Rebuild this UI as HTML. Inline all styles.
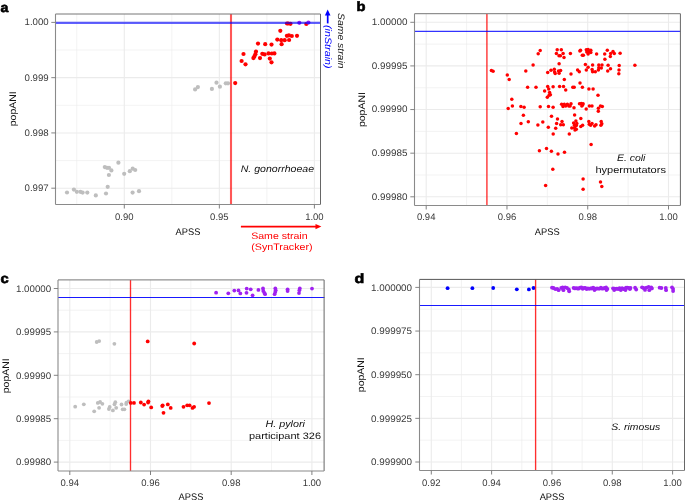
<!DOCTYPE html>
<html><head><meta charset="utf-8"><style>
html,body{margin:0;padding:0;background:#fff;}
body{width:685px;height:503px;overflow:hidden;font-family:"Liberation Sans", sans-serif;}
svg{display:block;will-change:transform;}
</style></head><body>
<svg width="685" height="503" viewBox="0 0 685 503" font-family='"Liberation Sans", sans-serif' text-rendering="geometricPrecision">
<rect x="0" y="0" width="685" height="503" fill="#fff"/>
<line x1="76.77" y1="14" x2="76.77" y2="204.5" stroke="#ebebeb" stroke-width="0.6"/>
<line x1="171.83" y1="14" x2="171.83" y2="204.5" stroke="#ebebeb" stroke-width="0.6"/>
<line x1="266.87" y1="14" x2="266.87" y2="204.5" stroke="#ebebeb" stroke-width="0.6"/>
<line x1="55.5" y1="160.57" x2="320.5" y2="160.57" stroke="#ebebeb" stroke-width="0.6"/>
<line x1="55.5" y1="105.3" x2="320.5" y2="105.3" stroke="#ebebeb" stroke-width="0.6"/>
<line x1="55.5" y1="50.03" x2="320.5" y2="50.03" stroke="#ebebeb" stroke-width="0.6"/>
<line x1="124.3" y1="14" x2="124.3" y2="204.5" stroke="#ebebeb" stroke-width="1.1"/>
<line x1="219.35" y1="14" x2="219.35" y2="204.5" stroke="#ebebeb" stroke-width="1.1"/>
<line x1="314.4" y1="14" x2="314.4" y2="204.5" stroke="#ebebeb" stroke-width="1.1"/>
<line x1="55.5" y1="22.4" x2="320.5" y2="22.4" stroke="#ebebeb" stroke-width="1.1"/>
<line x1="55.5" y1="77.67" x2="320.5" y2="77.67" stroke="#ebebeb" stroke-width="1.1"/>
<line x1="55.5" y1="132.93" x2="320.5" y2="132.93" stroke="#ebebeb" stroke-width="1.1"/>
<line x1="55.5" y1="188.2" x2="320.5" y2="188.2" stroke="#ebebeb" stroke-width="1.1"/>
<circle cx="67.0" cy="192.5" r="2.1" fill="#bebebe"/>
<circle cx="73.9" cy="189.6" r="2.1" fill="#bebebe"/>
<circle cx="76.8" cy="191.8" r="2.1" fill="#bebebe"/>
<circle cx="80.4" cy="191.8" r="2.1" fill="#bebebe"/>
<circle cx="82.6" cy="192.6" r="2.1" fill="#bebebe"/>
<circle cx="87.3" cy="192.6" r="2.1" fill="#bebebe"/>
<circle cx="95.8" cy="195.4" r="2.1" fill="#bebebe"/>
<circle cx="106.0" cy="193.5" r="2.1" fill="#bebebe"/>
<circle cx="107.7" cy="186.8" r="2.1" fill="#bebebe"/>
<circle cx="108.9" cy="175" r="2.1" fill="#bebebe"/>
<circle cx="104.8" cy="167.1" r="2.1" fill="#bebebe"/>
<circle cx="107" cy="167.8" r="2.1" fill="#bebebe"/>
<circle cx="109" cy="167.8" r="2.1" fill="#bebebe"/>
<circle cx="111.4" cy="170.4" r="2.1" fill="#bebebe"/>
<circle cx="118.4" cy="162.7" r="2.1" fill="#bebebe"/>
<circle cx="124.2" cy="173.8" r="2.1" fill="#bebebe"/>
<circle cx="129.8" cy="171.2" r="2.1" fill="#bebebe"/>
<circle cx="132.7" cy="168.7" r="2.1" fill="#bebebe"/>
<circle cx="135.2" cy="170" r="2.1" fill="#bebebe"/>
<circle cx="132.6" cy="192.6" r="2.1" fill="#bebebe"/>
<circle cx="139" cy="191.2" r="2.1" fill="#bebebe"/>
<circle cx="195.1" cy="89.4" r="2.1" fill="#bebebe"/>
<circle cx="197.9" cy="87.1" r="2.1" fill="#bebebe"/>
<circle cx="211.9" cy="88.9" r="2.1" fill="#bebebe"/>
<circle cx="216.5" cy="82.7" r="2.1" fill="#bebebe"/>
<circle cx="219.9" cy="86.7" r="2.1" fill="#bebebe"/>
<circle cx="225.8" cy="83.3" r="2.1" fill="#bebebe"/>
<circle cx="228" cy="83.3" r="2.1" fill="#bebebe"/>
<circle cx="235.2" cy="83.1" r="2.1" fill="#ff0000"/>
<circle cx="241.6" cy="61" r="2.1" fill="#ff0000"/>
<circle cx="245.5" cy="64.3" r="2.1" fill="#ff0000"/>
<circle cx="243.5" cy="54" r="2.1" fill="#ff0000"/>
<circle cx="253.4" cy="58.1" r="2.1" fill="#ff0000"/>
<circle cx="254.4" cy="56.4" r="2.1" fill="#ff0000"/>
<circle cx="255.4" cy="54.2" r="2.1" fill="#ff0000"/>
<circle cx="256" cy="51.5" r="2.1" fill="#ff0000"/>
<circle cx="258" cy="43.6" r="2.1" fill="#ff0000"/>
<circle cx="260" cy="58.1" r="2.1" fill="#ff0000"/>
<circle cx="262.3" cy="53.8" r="2.1" fill="#ff0000"/>
<circle cx="264.6" cy="54.4" r="2.1" fill="#ff0000"/>
<circle cx="265.2" cy="44.2" r="2.1" fill="#ff0000"/>
<circle cx="268.5" cy="53.4" r="2.1" fill="#ff0000"/>
<circle cx="269.8" cy="58.6" r="2.1" fill="#ff0000"/>
<circle cx="271.5" cy="62.3" r="2.1" fill="#ff0000"/>
<circle cx="271.5" cy="44.6" r="2.1" fill="#ff0000"/>
<circle cx="271.8" cy="53.5" r="2.1" fill="#ff0000"/>
<circle cx="274.4" cy="53.4" r="2.1" fill="#ff0000"/>
<circle cx="277.3" cy="39.6" r="2.1" fill="#ff0000"/>
<circle cx="280.3" cy="30.8" r="2.1" fill="#ff0000"/>
<circle cx="281.2" cy="40.2" r="2.1" fill="#ff0000"/>
<circle cx="281.6" cy="44.2" r="2.1" fill="#ff0000"/>
<circle cx="284.7" cy="40.2" r="2.1" fill="#ff0000"/>
<circle cx="286.9" cy="35.8" r="2.1" fill="#ff0000"/>
<circle cx="288.9" cy="35.4" r="2.1" fill="#ff0000"/>
<circle cx="289.1" cy="40" r="2.1" fill="#ff0000"/>
<circle cx="291.8" cy="36" r="2.1" fill="#ff0000"/>
<circle cx="297" cy="35.8" r="2.1" fill="#ff0000"/>
<circle cx="287" cy="23.5" r="2.1" fill="#ff0000"/>
<circle cx="288.2" cy="23.5" r="2.1" fill="#ff0000"/>
<circle cx="290.5" cy="23.8" r="2.1" fill="#ff0000"/>
<circle cx="306.3" cy="24" r="2.1" fill="#ff0000"/>
<circle cx="299.3" cy="22.8" r="2.1" fill="#a020f0"/>
<circle cx="308.4" cy="22.6" r="2.1" fill="#a020f0"/>
<line x1="231" y1="14" x2="231" y2="204.5" stroke="#ff0000" stroke-opacity="0.66" stroke-width="2.1"/>
<line x1="55.5" y1="22.95" x2="320.5" y2="22.95" stroke="#0000ff" stroke-opacity="0.62" stroke-width="2.2"/>
<line x1="55.5" y1="14" x2="320.5" y2="14" stroke="#777" stroke-width="1"/>
<line x1="320.5" y1="14" x2="320.5" y2="204.5" stroke="#666" stroke-width="1"/>
<line x1="55.5" y1="204.5" x2="320.5" y2="204.5" stroke="#8a8a8a" stroke-width="1.1"/>
<line x1="55.5" y1="14" x2="55.5" y2="204.5" stroke="#8a8a8a" stroke-width="1.1"/>
<line x1="124.3" y1="204.5" x2="124.3" y2="208.5" stroke="#7a7a7a" stroke-width="0.95"/>
<text x="124.3" y="219.8" font-size="9.5" fill="#3a3a3a" text-anchor="middle">0.90</text>
<line x1="219.35" y1="204.5" x2="219.35" y2="208.5" stroke="#7a7a7a" stroke-width="0.95"/>
<text x="219.35" y="219.8" font-size="9.5" fill="#3a3a3a" text-anchor="middle">0.95</text>
<line x1="314.4" y1="204.5" x2="314.4" y2="208.5" stroke="#7a7a7a" stroke-width="0.95"/>
<text x="314.4" y="219.8" font-size="9.5" fill="#3a3a3a" text-anchor="middle">1.00</text>
<line x1="51.3" y1="22.4" x2="55.5" y2="22.4" stroke="#777" stroke-width="0.9"/>
<text x="48.7" y="25.299999999999997" font-size="9.5" fill="#3a3a3a" text-anchor="end" textLength="24.17" lengthAdjust="spacingAndGlyphs">1.000</text>
<line x1="51.3" y1="77.67" x2="55.5" y2="77.67" stroke="#777" stroke-width="0.9"/>
<text x="48.7" y="80.57000000000001" font-size="9.5" fill="#3a3a3a" text-anchor="end" textLength="24.17" lengthAdjust="spacingAndGlyphs">0.999</text>
<line x1="51.3" y1="132.93" x2="55.5" y2="132.93" stroke="#777" stroke-width="0.9"/>
<text x="48.7" y="135.83" font-size="9.5" fill="#3a3a3a" text-anchor="end" textLength="24.17" lengthAdjust="spacingAndGlyphs">0.998</text>
<line x1="51.3" y1="188.2" x2="55.5" y2="188.2" stroke="#777" stroke-width="0.9"/>
<text x="48.7" y="191.1" font-size="9.5" fill="#3a3a3a" text-anchor="end" textLength="24.17" lengthAdjust="spacingAndGlyphs">0.997</text>
<text x="188" y="235.3" font-size="9.6" fill="#111" text-anchor="middle" textLength="24.9" lengthAdjust="spacingAndGlyphs">APSS</text>
<text x="15.9" y="108.8" font-size="9.6" fill="#111" text-anchor="middle" textLength="35.0" lengthAdjust="spacingAndGlyphs" transform="rotate(-90 15.9 108.8)">popANI</text>
<line x1="466.58" y1="13.7" x2="466.58" y2="205.5" stroke="#ebebeb" stroke-width="0.6"/>
<line x1="547.35" y1="13.7" x2="547.35" y2="205.5" stroke="#ebebeb" stroke-width="0.6"/>
<line x1="628.12" y1="13.7" x2="628.12" y2="205.5" stroke="#ebebeb" stroke-width="0.6"/>
<line x1="414.5" y1="44.11" x2="680.4" y2="44.11" stroke="#ebebeb" stroke-width="0.6"/>
<line x1="414.5" y1="87.74" x2="680.4" y2="87.74" stroke="#ebebeb" stroke-width="0.6"/>
<line x1="414.5" y1="131.36" x2="680.4" y2="131.36" stroke="#ebebeb" stroke-width="0.6"/>
<line x1="414.5" y1="174.99" x2="680.4" y2="174.99" stroke="#ebebeb" stroke-width="0.6"/>
<line x1="426.2" y1="13.7" x2="426.2" y2="205.5" stroke="#ebebeb" stroke-width="1.1"/>
<line x1="506.97" y1="13.7" x2="506.97" y2="205.5" stroke="#ebebeb" stroke-width="1.1"/>
<line x1="587.73" y1="13.7" x2="587.73" y2="205.5" stroke="#ebebeb" stroke-width="1.1"/>
<line x1="668.5" y1="13.7" x2="668.5" y2="205.5" stroke="#ebebeb" stroke-width="1.1"/>
<line x1="414.5" y1="22.3" x2="680.4" y2="22.3" stroke="#ebebeb" stroke-width="1.1"/>
<line x1="414.5" y1="65.92" x2="680.4" y2="65.92" stroke="#ebebeb" stroke-width="1.1"/>
<line x1="414.5" y1="109.55" x2="680.4" y2="109.55" stroke="#ebebeb" stroke-width="1.1"/>
<line x1="414.5" y1="153.18" x2="680.4" y2="153.18" stroke="#ebebeb" stroke-width="1.1"/>
<line x1="414.5" y1="196.8" x2="680.4" y2="196.8" stroke="#ebebeb" stroke-width="1.1"/>
<circle cx="540.2" cy="50.5" r="1.75" fill="#ff0000"/>
<circle cx="538.2" cy="53.7" r="1.75" fill="#ff0000"/>
<circle cx="557.2" cy="49.8" r="1.75" fill="#ff0000"/>
<circle cx="556.4" cy="53.4" r="1.75" fill="#ff0000"/>
<circle cx="559" cy="55.7" r="1.75" fill="#ff0000"/>
<circle cx="561.3" cy="49.8" r="1.75" fill="#ff0000"/>
<circle cx="563.1" cy="53.4" r="1.75" fill="#ff0000"/>
<circle cx="560.4" cy="55.7" r="1.75" fill="#ff0000"/>
<circle cx="564" cy="57.5" r="1.75" fill="#ff0000"/>
<circle cx="570.4" cy="53.6" r="1.75" fill="#ff0000"/>
<circle cx="580.5" cy="50.3" r="1.75" fill="#ff0000"/>
<circle cx="579.9" cy="50.9" r="1.75" fill="#ff0000"/>
<circle cx="583.4" cy="55.2" r="1.75" fill="#ff0000"/>
<circle cx="582.3" cy="55.2" r="1.75" fill="#ff0000"/>
<circle cx="586.3" cy="49.8" r="1.75" fill="#ff0000"/>
<circle cx="588.1" cy="49.4" r="1.75" fill="#ff0000"/>
<circle cx="590.8" cy="50.3" r="1.75" fill="#ff0000"/>
<circle cx="586.8" cy="52.1" r="1.75" fill="#ff0000"/>
<circle cx="589" cy="52.1" r="1.75" fill="#ff0000"/>
<circle cx="590.8" cy="52.5" r="1.75" fill="#ff0000"/>
<circle cx="588.1" cy="53.9" r="1.75" fill="#ff0000"/>
<circle cx="596.6" cy="53.9" r="1.75" fill="#ff0000"/>
<circle cx="607.3" cy="50.3" r="1.75" fill="#ff0000"/>
<circle cx="604.7" cy="53.9" r="1.75" fill="#ff0000"/>
<circle cx="610.7" cy="53.4" r="1.75" fill="#ff0000"/>
<circle cx="613" cy="51.6" r="1.75" fill="#ff0000"/>
<circle cx="614.3" cy="53.4" r="1.75" fill="#ff0000"/>
<circle cx="610.3" cy="56.4" r="1.75" fill="#ff0000"/>
<circle cx="604.9" cy="59.2" r="1.75" fill="#ff0000"/>
<circle cx="620.1" cy="53.2" r="1.75" fill="#ff0000"/>
<circle cx="533.1" cy="64.9" r="1.75" fill="#ff0000"/>
<circle cx="559.1" cy="63.7" r="1.75" fill="#ff0000"/>
<circle cx="491.4" cy="70.4" r="1.75" fill="#ff0000"/>
<circle cx="493.1" cy="71.3" r="1.75" fill="#ff0000"/>
<circle cx="507.3" cy="74.9" r="1.75" fill="#ff0000"/>
<circle cx="509.2" cy="79.6" r="1.75" fill="#ff0000"/>
<circle cx="525.8" cy="70.9" r="1.75" fill="#ff0000"/>
<circle cx="547.7" cy="72.6" r="1.75" fill="#ff0000"/>
<circle cx="551" cy="70.2" r="1.75" fill="#ff0000"/>
<circle cx="554.3" cy="69.3" r="1.75" fill="#ff0000"/>
<circle cx="554.6" cy="72" r="1.75" fill="#ff0000"/>
<circle cx="555.2" cy="73.5" r="1.75" fill="#ff0000"/>
<circle cx="558.5" cy="71.1" r="1.75" fill="#ff0000"/>
<circle cx="560.6" cy="70.5" r="1.75" fill="#ff0000"/>
<circle cx="559.1" cy="73.2" r="1.75" fill="#ff0000"/>
<circle cx="571" cy="74" r="1.75" fill="#ff0000"/>
<circle cx="564.3" cy="79.6" r="1.75" fill="#ff0000"/>
<circle cx="577.6" cy="69.9" r="1.75" fill="#ff0000"/>
<circle cx="579.3" cy="71.7" r="1.75" fill="#ff0000"/>
<circle cx="580" cy="83" r="1.75" fill="#ff0000"/>
<circle cx="585.4" cy="64.4" r="1.75" fill="#ff0000"/>
<circle cx="592.6" cy="65" r="1.75" fill="#ff0000"/>
<circle cx="588.1" cy="67.3" r="1.75" fill="#ff0000"/>
<circle cx="586.3" cy="70" r="1.75" fill="#ff0000"/>
<circle cx="592.1" cy="69.5" r="1.75" fill="#ff0000"/>
<circle cx="592.6" cy="71.8" r="1.75" fill="#ff0000"/>
<circle cx="595.3" cy="71.8" r="1.75" fill="#ff0000"/>
<circle cx="598.4" cy="70" r="1.75" fill="#ff0000"/>
<circle cx="598.8" cy="65" r="1.75" fill="#ff0000"/>
<circle cx="602" cy="65" r="1.75" fill="#ff0000"/>
<circle cx="598.8" cy="67.7" r="1.75" fill="#ff0000"/>
<circle cx="601.3" cy="67.9" r="1.75" fill="#ff0000"/>
<circle cx="608.1" cy="65.2" r="1.75" fill="#ff0000"/>
<circle cx="610.5" cy="68.8" r="1.75" fill="#ff0000"/>
<circle cx="607.7" cy="71" r="1.75" fill="#ff0000"/>
<circle cx="619.2" cy="65.5" r="1.75" fill="#ff0000"/>
<circle cx="619" cy="70" r="1.75" fill="#ff0000"/>
<circle cx="618.8" cy="73.8" r="1.75" fill="#ff0000"/>
<circle cx="634.9" cy="65.3" r="1.75" fill="#ff0000"/>
<circle cx="527.6" cy="87.2" r="1.75" fill="#ff0000"/>
<circle cx="536" cy="87.2" r="1.75" fill="#ff0000"/>
<circle cx="547.7" cy="86.6" r="1.75" fill="#ff0000"/>
<circle cx="553.1" cy="86.8" r="1.75" fill="#ff0000"/>
<circle cx="559.6" cy="86.6" r="1.75" fill="#ff0000"/>
<circle cx="563.5" cy="86.5" r="1.75" fill="#ff0000"/>
<circle cx="565.7" cy="90" r="1.75" fill="#ff0000"/>
<circle cx="572.8" cy="87.3" r="1.75" fill="#ff0000"/>
<circle cx="574.2" cy="87.3" r="1.75" fill="#ff0000"/>
<circle cx="582.4" cy="87.3" r="1.75" fill="#ff0000"/>
<circle cx="588.9" cy="88.9" r="1.75" fill="#ff0000"/>
<circle cx="593.1" cy="88.9" r="1.75" fill="#ff0000"/>
<circle cx="598" cy="95.2" r="1.75" fill="#ff0000"/>
<circle cx="544.6" cy="90.9" r="1.75" fill="#ff0000"/>
<circle cx="548.7" cy="88.9" r="1.75" fill="#ff0000"/>
<circle cx="549.6" cy="92.5" r="1.75" fill="#ff0000"/>
<circle cx="549.1" cy="95.2" r="1.75" fill="#ff0000"/>
<circle cx="547.3" cy="97.3" r="1.75" fill="#ff0000"/>
<circle cx="550.4" cy="94.8" r="1.75" fill="#ff0000"/>
<circle cx="511.8" cy="99.2" r="1.75" fill="#ff0000"/>
<circle cx="512.4" cy="106.1" r="1.75" fill="#ff0000"/>
<circle cx="508.2" cy="108.4" r="1.75" fill="#ff0000"/>
<circle cx="520.9" cy="106.4" r="1.75" fill="#ff0000"/>
<circle cx="524.1" cy="107.3" r="1.75" fill="#ff0000"/>
<circle cx="540.2" cy="106.8" r="1.75" fill="#ff0000"/>
<circle cx="548.5" cy="106.4" r="1.75" fill="#ff0000"/>
<circle cx="553.1" cy="107.3" r="1.75" fill="#ff0000"/>
<circle cx="561.6" cy="104.2" r="1.75" fill="#ff0000"/>
<circle cx="563" cy="106.4" r="1.75" fill="#ff0000"/>
<circle cx="564.3" cy="104.2" r="1.75" fill="#ff0000"/>
<circle cx="565.7" cy="105.9" r="1.75" fill="#ff0000"/>
<circle cx="567.4" cy="104.2" r="1.75" fill="#ff0000"/>
<circle cx="568.8" cy="105.9" r="1.75" fill="#ff0000"/>
<circle cx="571" cy="103.7" r="1.75" fill="#ff0000"/>
<circle cx="570.1" cy="105.9" r="1.75" fill="#ff0000"/>
<circle cx="574" cy="107.7" r="1.75" fill="#ff0000"/>
<circle cx="579.5" cy="103.7" r="1.75" fill="#ff0000"/>
<circle cx="581.3" cy="103.4" r="1.75" fill="#ff0000"/>
<circle cx="583.1" cy="103.7" r="1.75" fill="#ff0000"/>
<circle cx="581.8" cy="105.9" r="1.75" fill="#ff0000"/>
<circle cx="582.6" cy="105" r="1.75" fill="#ff0000"/>
<circle cx="586.2" cy="109.1" r="1.75" fill="#ff0000"/>
<circle cx="589.4" cy="105.9" r="1.75" fill="#ff0000"/>
<circle cx="592" cy="105.9" r="1.75" fill="#ff0000"/>
<circle cx="600.5" cy="105.9" r="1.75" fill="#ff0000"/>
<circle cx="602.3" cy="106.4" r="1.75" fill="#ff0000"/>
<circle cx="598.4" cy="108.2" r="1.75" fill="#ff0000"/>
<circle cx="598.3" cy="111.3" r="1.75" fill="#ff0000"/>
<circle cx="523.4" cy="115.2" r="1.75" fill="#ff0000"/>
<circle cx="551.5" cy="116.2" r="1.75" fill="#ff0000"/>
<circle cx="574.6" cy="114.9" r="1.75" fill="#ff0000"/>
<circle cx="521" cy="123.6" r="1.75" fill="#ff0000"/>
<circle cx="528.3" cy="121.8" r="1.75" fill="#ff0000"/>
<circle cx="537.9" cy="125.1" r="1.75" fill="#ff0000"/>
<circle cx="542.8" cy="122" r="1.75" fill="#ff0000"/>
<circle cx="548.3" cy="127.3" r="1.75" fill="#ff0000"/>
<circle cx="516.4" cy="133.4" r="1.75" fill="#ff0000"/>
<circle cx="546.5" cy="148.6" r="1.75" fill="#ff0000"/>
<circle cx="539.4" cy="150.7" r="1.75" fill="#ff0000"/>
<circle cx="557.5" cy="118.9" r="1.75" fill="#ff0000"/>
<circle cx="580.8" cy="118.4" r="1.75" fill="#ff0000"/>
<circle cx="556.6" cy="123.4" r="1.75" fill="#ff0000"/>
<circle cx="562" cy="121.6" r="1.75" fill="#ff0000"/>
<circle cx="560.7" cy="124.7" r="1.75" fill="#ff0000"/>
<circle cx="563.3" cy="124.7" r="1.75" fill="#ff0000"/>
<circle cx="555.7" cy="128.3" r="1.75" fill="#ff0000"/>
<circle cx="553.2" cy="134.1" r="1.75" fill="#ff0000"/>
<circle cx="569.3" cy="134.1" r="1.75" fill="#ff0000"/>
<circle cx="573.6" cy="122.9" r="1.75" fill="#ff0000"/>
<circle cx="575.9" cy="121.1" r="1.75" fill="#ff0000"/>
<circle cx="576.8" cy="123.4" r="1.75" fill="#ff0000"/>
<circle cx="574.5" cy="125.2" r="1.75" fill="#ff0000"/>
<circle cx="576.3" cy="125.6" r="1.75" fill="#ff0000"/>
<circle cx="571.8" cy="128" r="1.75" fill="#ff0000"/>
<circle cx="574.5" cy="127.8" r="1.75" fill="#ff0000"/>
<circle cx="576.3" cy="129.2" r="1.75" fill="#ff0000"/>
<circle cx="575" cy="130.1" r="1.75" fill="#ff0000"/>
<circle cx="580.8" cy="126.5" r="1.75" fill="#ff0000"/>
<circle cx="582.6" cy="125.2" r="1.75" fill="#ff0000"/>
<circle cx="588.8" cy="121.6" r="1.75" fill="#ff0000"/>
<circle cx="589.3" cy="124.3" r="1.75" fill="#ff0000"/>
<circle cx="590.6" cy="125.2" r="1.75" fill="#ff0000"/>
<circle cx="592" cy="123.4" r="1.75" fill="#ff0000"/>
<circle cx="594.6" cy="126" r="1.75" fill="#ff0000"/>
<circle cx="596" cy="124.7" r="1.75" fill="#ff0000"/>
<circle cx="601.2" cy="121.4" r="1.75" fill="#ff0000"/>
<circle cx="600.9" cy="125.2" r="1.75" fill="#ff0000"/>
<circle cx="601.8" cy="123.8" r="1.75" fill="#ff0000"/>
<circle cx="591.1" cy="144.4" r="1.75" fill="#ff0000"/>
<circle cx="551.4" cy="151.3" r="1.75" fill="#ff0000"/>
<circle cx="558" cy="154" r="1.75" fill="#ff0000"/>
<circle cx="564.5" cy="152.3" r="1.75" fill="#ff0000"/>
<circle cx="552.8" cy="169.2" r="1.75" fill="#ff0000"/>
<circle cx="583.1" cy="179.1" r="1.75" fill="#ff0000"/>
<circle cx="545.6" cy="185.6" r="1.75" fill="#ff0000"/>
<circle cx="583.1" cy="189.3" r="1.75" fill="#ff0000"/>
<circle cx="600.5" cy="182" r="1.75" fill="#ff0000"/>
<circle cx="601.8" cy="186.5" r="1.75" fill="#ff0000"/>
<line x1="486.9" y1="14" x2="486.9" y2="205.5" stroke="#ff0000" stroke-opacity="0.75" stroke-width="1.5"/>
<line x1="414.5" y1="31.3" x2="680.5" y2="31.3" stroke="#0000ff" stroke-opacity="0.8" stroke-width="1.3"/>
<line x1="414.5" y1="13.7" x2="680.4" y2="13.7" stroke="#777" stroke-width="1"/>
<line x1="680.4" y1="13.7" x2="680.4" y2="205.5" stroke="#666" stroke-width="1"/>
<line x1="414.5" y1="205.5" x2="680.4" y2="205.5" stroke="#8a8a8a" stroke-width="1.1"/>
<line x1="414.5" y1="13.7" x2="414.5" y2="205.5" stroke="#8a8a8a" stroke-width="1.1"/>
<line x1="426.2" y1="205.5" x2="426.2" y2="209.5" stroke="#7a7a7a" stroke-width="0.95"/>
<text x="426.2" y="220.0" font-size="9.5" fill="#3a3a3a" text-anchor="middle">0.94</text>
<line x1="506.97" y1="205.5" x2="506.97" y2="209.5" stroke="#7a7a7a" stroke-width="0.95"/>
<text x="506.97" y="220.0" font-size="9.5" fill="#3a3a3a" text-anchor="middle">0.96</text>
<line x1="587.73" y1="205.5" x2="587.73" y2="209.5" stroke="#7a7a7a" stroke-width="0.95"/>
<text x="587.73" y="220.0" font-size="9.5" fill="#3a3a3a" text-anchor="middle">0.98</text>
<line x1="668.5" y1="205.5" x2="668.5" y2="209.5" stroke="#7a7a7a" stroke-width="0.95"/>
<text x="668.5" y="220.0" font-size="9.5" fill="#3a3a3a" text-anchor="middle">1.00</text>
<line x1="410.3" y1="22.3" x2="414.5" y2="22.3" stroke="#777" stroke-width="0.9"/>
<text x="407.5" y="25.2" font-size="9.5" fill="#3a3a3a" text-anchor="end" textLength="35.83" lengthAdjust="spacingAndGlyphs">1.00000</text>
<line x1="410.3" y1="65.92" x2="414.5" y2="65.92" stroke="#777" stroke-width="0.9"/>
<text x="407.5" y="68.82000000000001" font-size="9.5" fill="#3a3a3a" text-anchor="end" textLength="35.83" lengthAdjust="spacingAndGlyphs">0.99995</text>
<line x1="410.3" y1="109.55" x2="414.5" y2="109.55" stroke="#777" stroke-width="0.9"/>
<text x="407.5" y="112.45" font-size="9.5" fill="#3a3a3a" text-anchor="end" textLength="35.83" lengthAdjust="spacingAndGlyphs">0.99990</text>
<line x1="410.3" y1="153.18" x2="414.5" y2="153.18" stroke="#777" stroke-width="0.9"/>
<text x="407.5" y="156.08" font-size="9.5" fill="#3a3a3a" text-anchor="end" textLength="35.83" lengthAdjust="spacingAndGlyphs">0.99985</text>
<line x1="410.3" y1="196.8" x2="414.5" y2="196.8" stroke="#777" stroke-width="0.9"/>
<text x="407.5" y="199.70000000000002" font-size="9.5" fill="#3a3a3a" text-anchor="end" textLength="35.83" lengthAdjust="spacingAndGlyphs">0.99980</text>
<text x="547.3" y="234.9" font-size="9.6" fill="#111" text-anchor="middle" textLength="24.9" lengthAdjust="spacingAndGlyphs">APSS</text>
<text x="365.2" y="109.6" font-size="9.6" fill="#111" text-anchor="middle" textLength="35.0" lengthAdjust="spacingAndGlyphs" transform="rotate(-90 365.2 109.6)">popANI</text>
<line x1="110.15" y1="279.9" x2="110.15" y2="471" stroke="#ebebeb" stroke-width="0.6"/>
<line x1="190.85" y1="279.9" x2="190.85" y2="471" stroke="#ebebeb" stroke-width="0.6"/>
<line x1="271.55" y1="279.9" x2="271.55" y2="471" stroke="#ebebeb" stroke-width="0.6"/>
<line x1="58" y1="310.2" x2="324.1" y2="310.2" stroke="#ebebeb" stroke-width="0.6"/>
<line x1="58" y1="353.6" x2="324.1" y2="353.6" stroke="#ebebeb" stroke-width="0.6"/>
<line x1="58" y1="397.0" x2="324.1" y2="397.0" stroke="#ebebeb" stroke-width="0.6"/>
<line x1="58" y1="440.4" x2="324.1" y2="440.4" stroke="#ebebeb" stroke-width="0.6"/>
<line x1="69.8" y1="279.9" x2="69.8" y2="471" stroke="#ebebeb" stroke-width="1.1"/>
<line x1="150.5" y1="279.9" x2="150.5" y2="471" stroke="#ebebeb" stroke-width="1.1"/>
<line x1="231.2" y1="279.9" x2="231.2" y2="471" stroke="#ebebeb" stroke-width="1.1"/>
<line x1="311.9" y1="279.9" x2="311.9" y2="471" stroke="#ebebeb" stroke-width="1.1"/>
<line x1="58" y1="288.5" x2="324.1" y2="288.5" stroke="#ebebeb" stroke-width="1.1"/>
<line x1="58" y1="331.9" x2="324.1" y2="331.9" stroke="#ebebeb" stroke-width="1.1"/>
<line x1="58" y1="375.3" x2="324.1" y2="375.3" stroke="#ebebeb" stroke-width="1.1"/>
<line x1="58" y1="418.7" x2="324.1" y2="418.7" stroke="#ebebeb" stroke-width="1.1"/>
<line x1="58" y1="462.1" x2="324.1" y2="462.1" stroke="#ebebeb" stroke-width="1.1"/>
<circle cx="75.2" cy="406.7" r="1.9" fill="#bebebe"/>
<circle cx="83.8" cy="404.3" r="1.9" fill="#bebebe"/>
<circle cx="94.2" cy="411.3" r="1.9" fill="#bebebe"/>
<circle cx="97.8" cy="402.9" r="1.9" fill="#bebebe"/>
<circle cx="100.1" cy="402" r="1.9" fill="#bebebe"/>
<circle cx="102.4" cy="403.8" r="1.9" fill="#bebebe"/>
<circle cx="99.1" cy="407.8" r="1.9" fill="#bebebe"/>
<circle cx="109.7" cy="406.9" r="1.9" fill="#bebebe"/>
<circle cx="108.9" cy="409" r="1.9" fill="#bebebe"/>
<circle cx="112.9" cy="410.4" r="1.9" fill="#bebebe"/>
<circle cx="115.3" cy="402.2" r="1.9" fill="#bebebe"/>
<circle cx="114.5" cy="404.3" r="1.9" fill="#bebebe"/>
<circle cx="116.2" cy="407.8" r="1.9" fill="#bebebe"/>
<circle cx="121.5" cy="404.5" r="1.9" fill="#bebebe"/>
<circle cx="122.7" cy="409.3" r="1.9" fill="#bebebe"/>
<circle cx="124.4" cy="409.3" r="1.9" fill="#bebebe"/>
<circle cx="126.2" cy="404.1" r="1.9" fill="#bebebe"/>
<circle cx="126.4" cy="402.7" r="1.9" fill="#bebebe"/>
<circle cx="128.5" cy="401.3" r="1.9" fill="#bebebe"/>
<circle cx="96.7" cy="342" r="1.9" fill="#bebebe"/>
<circle cx="99.2" cy="341.1" r="1.9" fill="#bebebe"/>
<circle cx="114.4" cy="343.8" r="1.9" fill="#bebebe"/>
<circle cx="130.8" cy="402.9" r="1.9" fill="#ff0000"/>
<circle cx="134" cy="402.9" r="1.9" fill="#ff0000"/>
<circle cx="140.8" cy="402.5" r="1.9" fill="#ff0000"/>
<circle cx="144.1" cy="404.6" r="1.9" fill="#ff0000"/>
<circle cx="148.1" cy="402.6" r="1.9" fill="#ff0000"/>
<circle cx="148.4" cy="401.3" r="1.9" fill="#ff0000"/>
<circle cx="151.2" cy="407.4" r="1.9" fill="#ff0000"/>
<circle cx="162.3" cy="406" r="1.9" fill="#ff0000"/>
<circle cx="162.7" cy="405.3" r="1.9" fill="#ff0000"/>
<circle cx="167.8" cy="404.4" r="1.9" fill="#ff0000"/>
<circle cx="170.7" cy="407.9" r="1.9" fill="#ff0000"/>
<circle cx="163.5" cy="412.8" r="1.9" fill="#ff0000"/>
<circle cx="183.5" cy="406.8" r="1.9" fill="#ff0000"/>
<circle cx="187.2" cy="405.3" r="1.9" fill="#ff0000"/>
<circle cx="189.6" cy="405.3" r="1.9" fill="#ff0000"/>
<circle cx="192.5" cy="407.9" r="1.9" fill="#ff0000"/>
<circle cx="194.1" cy="406.8" r="1.9" fill="#ff0000"/>
<circle cx="209" cy="403.1" r="1.9" fill="#ff0000"/>
<circle cx="147.7" cy="341.4" r="1.9" fill="#ff0000"/>
<circle cx="194.2" cy="343.5" r="1.9" fill="#ff0000"/>
<circle cx="216.1" cy="292.7" r="1.9" fill="#a020f0"/>
<circle cx="228.3" cy="293.3" r="1.9" fill="#a020f0"/>
<circle cx="234.3" cy="290.6" r="1.9" fill="#a020f0"/>
<circle cx="238.5" cy="290.4" r="1.9" fill="#a020f0"/>
<circle cx="240.3" cy="293.4" r="1.9" fill="#a020f0"/>
<circle cx="246.7" cy="288.6" r="1.9" fill="#a020f0"/>
<circle cx="246.5" cy="292.8" r="1.9" fill="#a020f0"/>
<circle cx="250.7" cy="289.3" r="1.9" fill="#a020f0"/>
<circle cx="252.6" cy="295.3" r="1.9" fill="#a020f0"/>
<circle cx="258.4" cy="289.9" r="1.9" fill="#a020f0"/>
<circle cx="263" cy="288.4" r="1.9" fill="#a020f0"/>
<circle cx="263.3" cy="291" r="1.9" fill="#a020f0"/>
<circle cx="264.4" cy="293" r="1.9" fill="#a020f0"/>
<circle cx="265.1" cy="294.2" r="1.9" fill="#a020f0"/>
<circle cx="275.3" cy="288.4" r="1.9" fill="#a020f0"/>
<circle cx="275.7" cy="290.2" r="1.9" fill="#a020f0"/>
<circle cx="275.3" cy="292" r="1.9" fill="#a020f0"/>
<circle cx="274.6" cy="294.2" r="1.9" fill="#a020f0"/>
<circle cx="287.6" cy="289.3" r="1.9" fill="#a020f0"/>
<circle cx="287.6" cy="291" r="1.9" fill="#a020f0"/>
<circle cx="299.8" cy="288.4" r="1.9" fill="#a020f0"/>
<circle cx="299.4" cy="290.2" r="1.9" fill="#a020f0"/>
<circle cx="299" cy="293.1" r="1.9" fill="#a020f0"/>
<circle cx="312" cy="288.6" r="1.9" fill="#a020f0"/>
<line x1="130.5" y1="280" x2="130.5" y2="471" stroke="#ff0000" stroke-opacity="0.82" stroke-width="1.35"/>
<line x1="58" y1="297.5" x2="324.5" y2="297.5" stroke="#0000ff" stroke-opacity="0.9" stroke-width="1.2"/>
<line x1="58" y1="279.9" x2="324.1" y2="279.9" stroke="#777" stroke-width="1"/>
<line x1="324.1" y1="279.9" x2="324.1" y2="471" stroke="#666" stroke-width="1"/>
<line x1="58" y1="471" x2="324.1" y2="471" stroke="#8a8a8a" stroke-width="1.1"/>
<line x1="58" y1="279.9" x2="58" y2="471" stroke="#8a8a8a" stroke-width="1.1"/>
<line x1="69.8" y1="471" x2="69.8" y2="475.0" stroke="#7a7a7a" stroke-width="0.95"/>
<text x="69.8" y="485.8" font-size="9.5" fill="#3a3a3a" text-anchor="middle">0.94</text>
<line x1="150.5" y1="471" x2="150.5" y2="475.0" stroke="#7a7a7a" stroke-width="0.95"/>
<text x="150.5" y="485.8" font-size="9.5" fill="#3a3a3a" text-anchor="middle">0.96</text>
<line x1="231.2" y1="471" x2="231.2" y2="475.0" stroke="#7a7a7a" stroke-width="0.95"/>
<text x="231.2" y="485.8" font-size="9.5" fill="#3a3a3a" text-anchor="middle">0.98</text>
<line x1="311.9" y1="471" x2="311.9" y2="475.0" stroke="#7a7a7a" stroke-width="0.95"/>
<text x="311.9" y="485.8" font-size="9.5" fill="#3a3a3a" text-anchor="middle">1.00</text>
<line x1="53.8" y1="288.5" x2="58" y2="288.5" stroke="#777" stroke-width="0.9"/>
<text x="51.2" y="291.7" font-size="9.5" fill="#3a3a3a" text-anchor="end" textLength="35.23" lengthAdjust="spacingAndGlyphs">1.00000</text>
<line x1="53.8" y1="331.9" x2="58" y2="331.9" stroke="#777" stroke-width="0.9"/>
<text x="51.2" y="335.09999999999997" font-size="9.5" fill="#3a3a3a" text-anchor="end" textLength="35.23" lengthAdjust="spacingAndGlyphs">0.99995</text>
<line x1="53.8" y1="375.3" x2="58" y2="375.3" stroke="#777" stroke-width="0.9"/>
<text x="51.2" y="378.5" font-size="9.5" fill="#3a3a3a" text-anchor="end" textLength="35.23" lengthAdjust="spacingAndGlyphs">0.99990</text>
<line x1="53.8" y1="418.7" x2="58" y2="418.7" stroke="#777" stroke-width="0.9"/>
<text x="51.2" y="421.9" font-size="9.5" fill="#3a3a3a" text-anchor="end" textLength="35.23" lengthAdjust="spacingAndGlyphs">0.99985</text>
<line x1="53.8" y1="462.1" x2="58" y2="462.1" stroke="#777" stroke-width="0.9"/>
<text x="51.2" y="465.3" font-size="9.5" fill="#3a3a3a" text-anchor="end" textLength="35.23" lengthAdjust="spacingAndGlyphs">0.99980</text>
<text x="191" y="500.3" font-size="9.6" fill="#111" text-anchor="middle" textLength="24.9" lengthAdjust="spacingAndGlyphs">APSS</text>
<text x="8.9" y="375.8" font-size="9.6" fill="#111" text-anchor="middle" textLength="35.0" lengthAdjust="spacingAndGlyphs" transform="rotate(-90 8.9 375.8)">popANI</text>
<line x1="461.46" y1="279.4" x2="461.46" y2="470.5" stroke="#ebebeb" stroke-width="0.6"/>
<line x1="521.79" y1="279.4" x2="521.79" y2="470.5" stroke="#ebebeb" stroke-width="0.6"/>
<line x1="582.11" y1="279.4" x2="582.11" y2="470.5" stroke="#ebebeb" stroke-width="0.6"/>
<line x1="642.44" y1="279.4" x2="642.44" y2="470.5" stroke="#ebebeb" stroke-width="0.6"/>
<line x1="419.5" y1="309.22" x2="684.5" y2="309.22" stroke="#ebebeb" stroke-width="0.6"/>
<line x1="419.5" y1="352.88" x2="684.5" y2="352.88" stroke="#ebebeb" stroke-width="0.6"/>
<line x1="419.5" y1="396.52" x2="684.5" y2="396.52" stroke="#ebebeb" stroke-width="0.6"/>
<line x1="419.5" y1="440.18" x2="684.5" y2="440.18" stroke="#ebebeb" stroke-width="0.6"/>
<line x1="431.3" y1="279.4" x2="431.3" y2="470.5" stroke="#ebebeb" stroke-width="1.1"/>
<line x1="491.62" y1="279.4" x2="491.62" y2="470.5" stroke="#ebebeb" stroke-width="1.1"/>
<line x1="551.95" y1="279.4" x2="551.95" y2="470.5" stroke="#ebebeb" stroke-width="1.1"/>
<line x1="612.27" y1="279.4" x2="612.27" y2="470.5" stroke="#ebebeb" stroke-width="1.1"/>
<line x1="672.6" y1="279.4" x2="672.6" y2="470.5" stroke="#ebebeb" stroke-width="1.1"/>
<line x1="419.5" y1="287.4" x2="684.5" y2="287.4" stroke="#ebebeb" stroke-width="1.1"/>
<line x1="419.5" y1="331.05" x2="684.5" y2="331.05" stroke="#ebebeb" stroke-width="1.1"/>
<line x1="419.5" y1="374.7" x2="684.5" y2="374.7" stroke="#ebebeb" stroke-width="1.1"/>
<line x1="419.5" y1="418.35" x2="684.5" y2="418.35" stroke="#ebebeb" stroke-width="1.1"/>
<line x1="419.5" y1="462.0" x2="684.5" y2="462.0" stroke="#ebebeb" stroke-width="1.1"/>
<circle cx="447.6" cy="288.2" r="1.9" fill="#0000ff"/>
<circle cx="472.4" cy="288.2" r="1.9" fill="#0000ff"/>
<circle cx="493.2" cy="288" r="1.9" fill="#0000ff"/>
<circle cx="516.8" cy="289.3" r="1.9" fill="#0000ff"/>
<circle cx="528.9" cy="289.4" r="1.9" fill="#0000ff"/>
<circle cx="533.5" cy="288" r="1.9" fill="#0000ff"/>
<circle cx="552" cy="287.7" r="1.9" fill="#a020f0"/>
<circle cx="553.5" cy="288" r="1.9" fill="#a020f0"/>
<circle cx="555.3" cy="289.1" r="1.9" fill="#a020f0"/>
<circle cx="557.2" cy="288.8" r="1.9" fill="#a020f0"/>
<circle cx="558.6" cy="290.2" r="1.9" fill="#a020f0"/>
<circle cx="561.2" cy="288" r="1.9" fill="#a020f0"/>
<circle cx="562.6" cy="287.3" r="1.9" fill="#a020f0"/>
<circle cx="563.4" cy="290.2" r="1.9" fill="#a020f0"/>
<circle cx="565.2" cy="287.3" r="1.9" fill="#a020f0"/>
<circle cx="567" cy="288" r="1.9" fill="#a020f0"/>
<circle cx="568.8" cy="289.5" r="1.9" fill="#a020f0"/>
<circle cx="569.2" cy="291.3" r="1.9" fill="#a020f0"/>
<circle cx="573.6" cy="287.9" r="1.9" fill="#a020f0"/>
<circle cx="574.9" cy="288.4" r="1.9" fill="#a020f0"/>
<circle cx="576.2" cy="288.1" r="1.9" fill="#a020f0"/>
<circle cx="577.5" cy="288.5" r="1.9" fill="#a020f0"/>
<circle cx="578.8" cy="288.5" r="1.9" fill="#a020f0"/>
<circle cx="580.1" cy="287.6" r="1.9" fill="#a020f0"/>
<circle cx="581.4" cy="287.5" r="1.9" fill="#a020f0"/>
<circle cx="582.7" cy="288.8" r="1.9" fill="#a020f0"/>
<circle cx="584.0" cy="287.9" r="1.9" fill="#a020f0"/>
<circle cx="585.3" cy="287.9" r="1.9" fill="#a020f0"/>
<circle cx="586.6" cy="289.1" r="1.9" fill="#a020f0"/>
<circle cx="587.9" cy="288.3" r="1.9" fill="#a020f0"/>
<circle cx="589.2" cy="288.8" r="1.9" fill="#a020f0"/>
<circle cx="590.5" cy="288.3" r="1.9" fill="#a020f0"/>
<circle cx="591.8" cy="288.5" r="1.9" fill="#a020f0"/>
<circle cx="593.1" cy="287.7" r="1.9" fill="#a020f0"/>
<circle cx="594.4" cy="288.5" r="1.9" fill="#a020f0"/>
<circle cx="595.7" cy="288.9" r="1.9" fill="#a020f0"/>
<circle cx="597.0" cy="288.3" r="1.9" fill="#a020f0"/>
<circle cx="598.3" cy="288.7" r="1.9" fill="#a020f0"/>
<circle cx="599.6" cy="288.6" r="1.9" fill="#a020f0"/>
<circle cx="600.9" cy="287.6" r="1.9" fill="#a020f0"/>
<circle cx="602.2" cy="288.7" r="1.9" fill="#a020f0"/>
<circle cx="603.5" cy="288.4" r="1.9" fill="#a020f0"/>
<circle cx="604.8" cy="288.0" r="1.9" fill="#a020f0"/>
<circle cx="606.1" cy="287.5" r="1.9" fill="#a020f0"/>
<circle cx="607.4" cy="288.9" r="1.9" fill="#a020f0"/>
<circle cx="594.5" cy="290.0" r="1.9" fill="#a020f0"/>
<circle cx="606.5" cy="290.0" r="1.9" fill="#a020f0"/>
<circle cx="613.0" cy="288.3" r="1.9" fill="#a020f0"/>
<circle cx="614.3" cy="288.7" r="1.9" fill="#a020f0"/>
<circle cx="615.6" cy="288.9" r="1.9" fill="#a020f0"/>
<circle cx="616.9" cy="288.6" r="1.9" fill="#a020f0"/>
<circle cx="618.2" cy="289.0" r="1.9" fill="#a020f0"/>
<circle cx="619.5" cy="288.1" r="1.9" fill="#a020f0"/>
<circle cx="620.8" cy="288.8" r="1.9" fill="#a020f0"/>
<circle cx="622.1" cy="288.2" r="1.9" fill="#a020f0"/>
<circle cx="623.4" cy="289.0" r="1.9" fill="#a020f0"/>
<circle cx="624.7" cy="288.9" r="1.9" fill="#a020f0"/>
<circle cx="626.0" cy="287.7" r="1.9" fill="#a020f0"/>
<circle cx="627.3" cy="287.7" r="1.9" fill="#a020f0"/>
<circle cx="628.6" cy="287.8" r="1.9" fill="#a020f0"/>
<circle cx="629.9" cy="289.0" r="1.9" fill="#a020f0"/>
<circle cx="614.2" cy="290.0" r="1.9" fill="#a020f0"/>
<circle cx="620.8" cy="290.0" r="1.9" fill="#a020f0"/>
<circle cx="625.5" cy="290.0" r="1.9" fill="#a020f0"/>
<circle cx="630.5" cy="288" r="1.9" fill="#a020f0"/>
<circle cx="635.1" cy="287.7" r="1.9" fill="#a020f0"/>
<circle cx="636.2" cy="289.5" r="1.9" fill="#a020f0"/>
<circle cx="642" cy="287.3" r="1.9" fill="#a020f0"/>
<circle cx="643.5" cy="288" r="1.9" fill="#a020f0"/>
<circle cx="645" cy="289.9" r="1.9" fill="#a020f0"/>
<circle cx="646.4" cy="287.7" r="1.9" fill="#a020f0"/>
<circle cx="648.6" cy="286.9" r="1.9" fill="#a020f0"/>
<circle cx="649.3" cy="290.2" r="1.9" fill="#a020f0"/>
<circle cx="651.2" cy="287.3" r="1.9" fill="#a020f0"/>
<circle cx="651.9" cy="288.4" r="1.9" fill="#a020f0"/>
<circle cx="659.6" cy="287.7" r="1.9" fill="#a020f0"/>
<circle cx="661.4" cy="288" r="1.9" fill="#a020f0"/>
<circle cx="665.8" cy="288" r="1.9" fill="#a020f0"/>
<circle cx="666.1" cy="290.2" r="1.9" fill="#a020f0"/>
<circle cx="672" cy="287.3" r="1.9" fill="#a020f0"/>
<circle cx="673.1" cy="288.8" r="1.9" fill="#a020f0"/>
<circle cx="673.1" cy="291" r="1.9" fill="#a020f0"/>
<line x1="535.6" y1="279.5" x2="535.6" y2="470.5" stroke="#ff0000" stroke-opacity="0.82" stroke-width="1.35"/>
<line x1="419.5" y1="305.5" x2="684.5" y2="305.5" stroke="#0000ff" stroke-opacity="0.9" stroke-width="1.2"/>
<line x1="419.5" y1="279.4" x2="684.5" y2="279.4" stroke="#555" stroke-width="1"/>
<line x1="684.5" y1="279.4" x2="684.5" y2="470.5" stroke="#666" stroke-width="1"/>
<line x1="419.5" y1="470.5" x2="684.5" y2="470.5" stroke="#8a8a8a" stroke-width="1.1"/>
<line x1="419.5" y1="279.4" x2="419.5" y2="470.5" stroke="#8a8a8a" stroke-width="1.1"/>
<line x1="431.3" y1="470.5" x2="431.3" y2="474.5" stroke="#7a7a7a" stroke-width="0.95"/>
<text x="431.3" y="485.8" font-size="9.5" fill="#3a3a3a" text-anchor="middle">0.92</text>
<line x1="491.62" y1="470.5" x2="491.62" y2="474.5" stroke="#7a7a7a" stroke-width="0.95"/>
<text x="491.62" y="485.8" font-size="9.5" fill="#3a3a3a" text-anchor="middle">0.94</text>
<line x1="551.95" y1="470.5" x2="551.95" y2="474.5" stroke="#7a7a7a" stroke-width="0.95"/>
<text x="551.95" y="485.8" font-size="9.5" fill="#3a3a3a" text-anchor="middle">0.96</text>
<line x1="612.27" y1="470.5" x2="612.27" y2="474.5" stroke="#7a7a7a" stroke-width="0.95"/>
<text x="612.27" y="485.8" font-size="9.5" fill="#3a3a3a" text-anchor="middle">0.98</text>
<line x1="672.6" y1="470.5" x2="672.6" y2="474.5" stroke="#7a7a7a" stroke-width="0.95"/>
<text x="672.6" y="485.8" font-size="9.5" fill="#3a3a3a" text-anchor="middle">1.00</text>
<line x1="415.3" y1="287.4" x2="419.5" y2="287.4" stroke="#777" stroke-width="0.9"/>
<text x="412.1" y="290.59999999999997" font-size="9.5" fill="#3a3a3a" text-anchor="end" textLength="41.12" lengthAdjust="spacingAndGlyphs">1.000000</text>
<line x1="415.3" y1="331.05" x2="419.5" y2="331.05" stroke="#777" stroke-width="0.9"/>
<text x="412.1" y="334.25" font-size="9.5" fill="#3a3a3a" text-anchor="end" textLength="41.12" lengthAdjust="spacingAndGlyphs">0.999975</text>
<line x1="415.3" y1="374.7" x2="419.5" y2="374.7" stroke="#777" stroke-width="0.9"/>
<text x="412.1" y="377.9" font-size="9.5" fill="#3a3a3a" text-anchor="end" textLength="41.12" lengthAdjust="spacingAndGlyphs">0.999950</text>
<line x1="415.3" y1="418.35" x2="419.5" y2="418.35" stroke="#777" stroke-width="0.9"/>
<text x="412.1" y="421.55" font-size="9.5" fill="#3a3a3a" text-anchor="end" textLength="41.12" lengthAdjust="spacingAndGlyphs">0.999925</text>
<line x1="415.3" y1="462.0" x2="419.5" y2="462.0" stroke="#777" stroke-width="0.9"/>
<text x="412.1" y="465.2" font-size="9.5" fill="#3a3a3a" text-anchor="end" textLength="41.12" lengthAdjust="spacingAndGlyphs">0.999900</text>
<text x="552.1" y="500.3" font-size="9.6" fill="#111" text-anchor="middle" textLength="24.9" lengthAdjust="spacingAndGlyphs">APSS</text>
<text x="364.4" y="374.7" font-size="9.6" fill="#111" text-anchor="middle" textLength="35.0" lengthAdjust="spacingAndGlyphs" transform="rotate(-90 364.4 374.7)">popANI</text>
<text x="0.4" y="12.0" font-size="13.4" fill="#000" text-anchor="start" font-weight="bold" textLength="7.9" lengthAdjust="spacingAndGlyphs" stroke="#000" stroke-width="0.6">a</text>
<text x="356.4" y="11.2" font-size="13.4" fill="#000" text-anchor="start" font-weight="bold" textLength="9.0" lengthAdjust="spacingAndGlyphs" stroke="#000" stroke-width="0.6">b</text>
<text x="0.6" y="282.8" font-size="13.4" fill="#000" text-anchor="start" font-weight="bold" textLength="8.2" lengthAdjust="spacingAndGlyphs" stroke="#000" stroke-width="0.6">c</text>
<text x="354.6" y="282.6" font-size="13.4" fill="#000" text-anchor="start" font-weight="bold" textLength="9.8" lengthAdjust="spacingAndGlyphs" stroke="#000" stroke-width="0.6">d</text>
<text x="277.4" y="172.3" font-size="9.6" fill="#111" text-anchor="middle" font-style="italic" textLength="73.4" lengthAdjust="spacingAndGlyphs">N. gonorrhoeae</text>
<text x="631.2" y="160.5" font-size="9.4" fill="#111" text-anchor="middle" font-style="italic" textLength="28.5" lengthAdjust="spacingAndGlyphs">E. coli</text>
<text x="630.7" y="172.9" font-size="9.4" fill="#111" text-anchor="middle" textLength="70.5" lengthAdjust="spacingAndGlyphs">hypermutators</text>
<text x="285.2" y="427.1" font-size="9.4" fill="#111" text-anchor="middle" font-style="italic" textLength="39.5" lengthAdjust="spacingAndGlyphs">H. pylori</text>
<text x="285.0" y="438.6" font-size="9.4" fill="#111" text-anchor="middle" textLength="72.0" lengthAdjust="spacingAndGlyphs">participant 326</text>
<text x="635.8" y="429.9" font-size="9.4" fill="#111" text-anchor="middle" font-style="italic" textLength="49.0" lengthAdjust="spacingAndGlyphs">S. rimosus</text>
<line x1="240.9" y1="226.6" x2="316.5" y2="226.6" stroke="#ff0000" stroke-width="1.6"/>
<path d="M315.5,223.9 L321.4,226.6 L315.5,229.3 Z" fill="#ff0000"/>
<text x="279.4" y="238.8" font-size="9.4" fill="#ff0000" text-anchor="middle" textLength="56.4" lengthAdjust="spacingAndGlyphs">Same strain</text>
<text x="281.9" y="249.9" font-size="9.4" fill="#ff0000" text-anchor="middle" textLength="61.3" lengthAdjust="spacingAndGlyphs">(SynTracker)</text>
<line x1="327.7" y1="23.4" x2="327.7" y2="14.5" stroke="#0000ff" stroke-width="1.7"/>
<path d="M324.9,15.6 L327.7,9.4 L330.5,15.6 Z" fill="#0000ff"/>
<text x="324.8" y="46.8" font-size="9.4" fill="#0000ff" text-anchor="middle" font-style="italic" textLength="43.5" lengthAdjust="spacingAndGlyphs" transform="rotate(90 324.8 46.8)">(inStrain)</text>
<text x="337.6" y="40.8" font-size="9.4" fill="#222" text-anchor="middle" font-style="italic" textLength="55.4" lengthAdjust="spacingAndGlyphs" transform="rotate(90 337.6 40.8)">Same strain</text>
</svg>
</body></html>
